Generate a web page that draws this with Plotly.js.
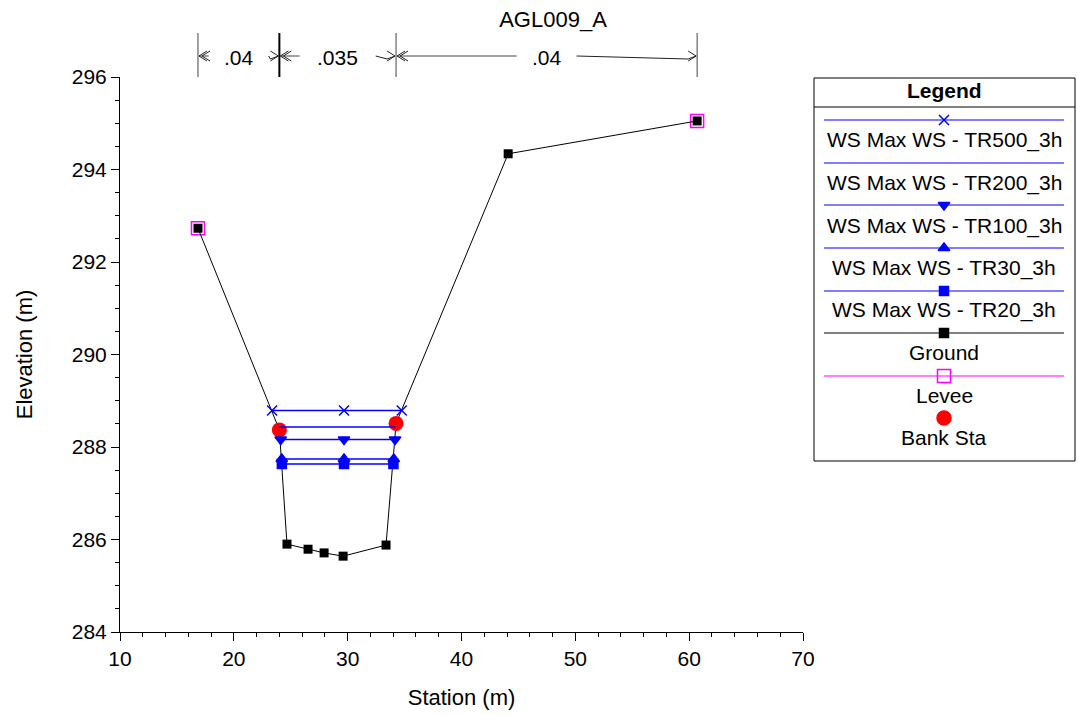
<!DOCTYPE html>
<html>
<head>
<meta charset="utf-8">
<script src="https://cdn.plot.ly/plotly-3.0.1.min.js"></script>
<style>html,body{margin:0;padding:0;background:#fff}#chart{width:1078px;height:715px}</style>
</head>
<body>
<div id="chart"></div>
<script>
// ---------------- DATA ----------------
const chartTitle = 'AGL009_A';
const groundX = [16.85, 24.0, 24.67, 26.52, 27.93, 29.6, 33.37, 34.25, 44.1, 60.7];
const groundY = [292.73, 288.37, 285.90, 285.79, 285.71, 285.64, 285.88, 288.51, 294.34, 295.05];
const leveeX = [16.85, 60.7];
const leveeY = [292.73, 295.05];
const bankX = [24.0, 34.25];
const bankY = [288.37, 288.51];
const tr500X = [23.36, 29.68, 34.75];
const tr500Y = [288.79, 288.79, 288.79];
const tr200X = [23.93, 29.68, 34.21];
const tr200Y = [288.43, 288.43, 288.43];
const tr100X = [24.12, 29.68, 34.16];
const tr100Y = [288.16, 288.16, 288.16];
const tr30X = [24.21, 29.68, 34.05];
const tr30Y = [287.74, 287.74, 287.74];
const tr20X = [24.22, 29.68, 34.02];
const tr20Y = [287.63, 287.63, 287.63];
const nStations = [16.85, 24.0, 34.25, 60.7];
const nValues = ['.04', '.035', '.04'];
const legendNames = ['WS Max WS - TR500_3h', 'WS Max WS - TR200_3h', 'WS Max WS - TR100_3h',
  'WS Max WS - TR30_3h', 'WS Max WS - TR20_3h', 'Ground', 'Levee', 'Bank Sta'];
const xTitle = 'Station (m)';
const yTitle = 'Elevation (m)';

// ---------------- LAYOUT CONSTANTS ----------------
const W = 1078, H = 715;
const FONT = 'Liberation Sans, Arial, sans-serif';
const FS = 21;
const plotL = 120, plotR = 803, plotT = 77, plotB = 632;
const xRange = [10, 70], yRange = [284, 296];
const BLUE = '#0000ff';
const unitsPerPx = (xRange[1] - xRange[0]) / (plotR - plotL);
const py = p => 1 - p / H; // pixel y -> paper y

// legend sub-axes in pixel units
const legL = 813, legR = 1076, legT = 77, legB = 462;

const styles = [
  {color: BLUE, symbol: 'x-thin-open', size: 10, mode: 'lines+markers'},
  {color: BLUE, symbol: 'circle', size: 0, mode: 'lines'},
  {color: BLUE, symbol: 'triangle-down', size: 10, mode: 'lines+markers'},
  {color: BLUE, symbol: 'triangle-up', size: 10, mode: 'lines+markers'},
  {color: BLUE, symbol: 'square', size: 9, mode: 'lines+markers'},
  {color: '#000000', symbol: 'square', size: 9, mode: 'lines+markers'},
  {color: '#ff00ff', symbol: 'square-open', size: 13, mode: 'lines+markers'},
  {color: '#ff0000', symbol: 'circle', size: 14, mode: 'markers'}
];

function wsTrace(x, y, st, name) {
  return {x: x, y: y, name: name, type: 'scatter', mode: st.mode,
    line: {color: st.color, width: 1.5},
    marker: {color: st.color, symbol: st.symbol, size: st.size, line: {color: st.color, width: 1.5}},
    xaxis: 'x', yaxis: 'y', showlegend: false, cliponaxis: false};
}

const traces = [
  {x: leveeX, y: leveeY, type: 'scatter', mode: 'markers', name: legendNames[6],
   marker: {symbol: 'square-open', size: 13, color: '#ff00ff', line: {color: '#ff00ff', width: 1.5}}, showlegend: false, cliponaxis: false},
  {x: groundX, y: groundY, type: 'scatter', mode: 'lines+markers', name: legendNames[5],
   line: {color: '#000000', width: 1}, marker: {symbol: 'square', size: 9, color: '#000000'}, showlegend: false, cliponaxis: false},
  {x: bankX, y: bankY, type: 'scatter', mode: 'markers', name: legendNames[7],
   marker: {symbol: 'circle', size: 15, color: '#ff0000'}, showlegend: false, cliponaxis: false},
  wsTrace(tr20X, tr20Y, styles[4], legendNames[4]),
  wsTrace(tr30X, tr30Y, styles[3], legendNames[3]),
  wsTrace(tr100X, tr100Y, styles[2], legendNames[2]),
  wsTrace(tr200X, tr200Y, styles[1], legendNames[1]),
  wsTrace(tr500X, tr500Y, styles[0], legendNames[0])
];

// ---------------- CUSTOM LEGEND ----------------
const legLineY = [120, 163, 205, 248, 291, 333, 376, 418];
const legTextY = [140, 183, 226, 268, 310, 352, 395, 437];
const shapes = [];
const annotations = [];
legendNames.forEach((nm, i) => {
  const st = styles[i];
  if (st.mode !== 'markers') {
    traces.push({x: [824, 1064], y: [legLineY[i], legLineY[i]], type: 'scatter', mode: 'lines',
      line: {color: st.color, width: 1}, xaxis: 'x2', yaxis: 'y2', showlegend: false, hoverinfo: 'skip'});
  }
  if (st.size > 0) {
    traces.push({x: [944], y: [legLineY[i]], type: 'scatter', mode: 'markers',
      marker: {color: st.color, symbol: st.symbol, size: st.size, line: {color: st.color, width: 1.5}},
      xaxis: 'x2', yaxis: 'y2', showlegend: false, hoverinfo: 'skip', cliponaxis: false});
  }
  annotations.push({xref: 'x2', yref: 'y2', x: 944, y: legTextY[i], text: nm, showarrow: false,
    xanchor: 'center', yanchor: 'middle', font: {family: FONT, size: FS, color: '#000'}});
});
annotations.push({xref: 'x2', yref: 'y2', x: 944, y: 90, text: '<b>Legend</b>', showarrow: false,
  xanchor: 'center', yanchor: 'middle', font: {family: FONT, size: FS, color: '#000'}});
shapes.push({type: 'rect', xref: 'paper', yref: 'paper', x0: 814 / W, x1: 1075 / W, y0: py(461), y1: py(78),
  line: {color: '#000', width: 1}, fillcolor: 'rgba(0,0,0,0)'});
shapes.push({type: 'line', xref: 'paper', yref: 'paper', x0: 814 / W, x1: 1075 / W, y0: py(107), y1: py(107),
  line: {color: '#000', width: 1}});

// ---------------- MANNING'S n BAR ----------------
const arrowY = 56;
nStations.forEach((s, i) => {
  shapes.push({type: 'line', xref: 'x', yref: 'paper', x0: s, x1: s, y0: py(33), y1: py(77),
    line: {color: i === 1 ? '#000' : '#444', width: i === 1 ? 2 : 1}});
});
nValues.forEach((v, i) => {
  const a = nStations[i], b = nStations[i + 1];
  const mid = (a + b) / 2;
  const half = (v.length * 8 + 6) * unitsPerPx;
  const u = unitsPerPx;
  // left arrow
  shapes.push({type: 'path', xref: 'x', yref: 'paper',
    path: `M ${mid - half} ${py(arrowY)} L ${a + 1 * u} ${py(arrowY)}`, line: {color: '#444', width: 1}});
  shapes.push({type: 'path', xref: 'x', yref: 'paper',
    path: `M ${a + 9 * u} ${py(arrowY - 5)} L ${a + 1 * u} ${py(arrowY)} L ${a + 9 * u} ${py(arrowY + 5)}`, line: {color: '#222', width: 1}});
  shapes.push({type: 'path', xref: 'x', yref: 'paper',
    path: `M ${a + 12 * u} ${py(arrowY - 5)} L ${a + 4 * u} ${py(arrowY)} L ${a + 12 * u} ${py(arrowY + 5)}`, line: {color: '#222', width: 1}});
  // right arrow (slightly skewed, like the reference)
  shapes.push({type: 'path', xref: 'x', yref: 'paper',
    path: `M ${mid + half} ${py(arrowY)} L ${b - 9 * u} ${py(arrowY + 3)} L ${b - 1 * u} ${py(arrowY)}`, line: {color: '#222', width: 1}});
  shapes.push({type: 'path', xref: 'x', yref: 'paper',
    path: `M ${b - 9 * u} ${py(arrowY - 5)} L ${b - 1 * u} ${py(arrowY)} L ${b - 9 * u} ${py(arrowY + 5)}`, line: {color: '#222', width: 1}});
  annotations.push({xref: 'x', yref: 'paper', x: mid, y: py(arrowY + 2), text: v, showarrow: false,
    xanchor: 'center', yanchor: 'middle', font: {family: FONT, size: FS, color: '#000'}});
});

const layout = {
  width: W, height: H,
  margin: {l: 0, r: 0, t: 0, b: 0},
  paper_bgcolor: '#fff', plot_bgcolor: '#fff',
  font: {family: FONT, size: FS, color: '#000'},
  showlegend: false,
  title: {text: chartTitle, x: 553 / W, y: py(19), xanchor: 'center', yanchor: 'middle', xref: 'paper', yref: 'paper',
    font: {family: FONT, size: 22, color: '#000'}},
  xaxis: {domain: [plotL / W, plotR / W], range: xRange, dtick: 10, tick0: 10,
    showline: true, linecolor: '#000', linewidth: 1, showgrid: false, zeroline: false,
    ticks: 'outside', ticklen: 8, tickcolor: '#000', tickwidth: 1,
    minor: {dtick: 2, ticks: 'outside', ticklen: 4, tickcolor: '#000', showgrid: false},
    tickfont: {family: FONT, size: FS}, anchor: 'y',
    title: {text: xTitle, font: {family: FONT, size: 22}, standoff: 20}},
  yaxis: {domain: [1 - plotB / H, 1 - plotT / H], range: yRange, dtick: 2, tick0: 284,
    showline: true, linecolor: '#000', linewidth: 1, showgrid: false, zeroline: false,
    ticks: 'outside', ticklen: 8, tickcolor: '#000', tickwidth: 1,
    minor: {dtick: 0.5, ticks: 'outside', ticklen: 4, tickcolor: '#000', showgrid: false},
    tickfont: {family: FONT, size: FS}, anchor: 'x',
    title: {text: yTitle, font: {family: FONT, size: 22}, standoff: 33}},
  xaxis2: {domain: [legL / W, legR / W], range: [legL, legR], visible: false, fixedrange: true, anchor: 'y2'},
  yaxis2: {domain: [1 - legB / H, 1 - legT / H], range: [legB, legT], visible: false, fixedrange: true, anchor: 'x2'},
  shapes: shapes,
  annotations: annotations
};

Plotly.newPlot('chart', traces, layout, {staticPlot: true, displayModeBar: false});
</script>
</body>
</html>
